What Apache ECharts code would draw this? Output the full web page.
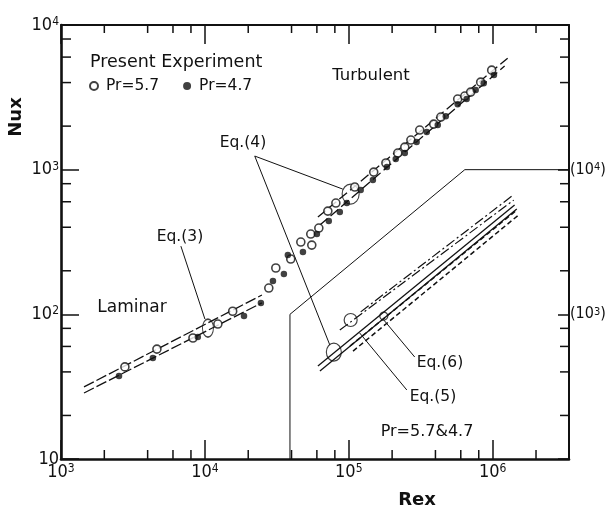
<!DOCTYPE html>
<html>
<head>
<meta charset="utf-8">
<script src="https://cdn.jsdelivr.net/npm/echarts@6/dist/echarts.min.js"></script>
<style>
  html, body { margin: 0; padding: 0; background: #fff; }
  #chart { width: 606px; height: 511px; }
</style>
</head>
<body>
<div id="chart"></div>
<script>
// Local Nusselt number against local Reynolds number, laminar and turbulent ranges.
const FONT = '"DejaVu Sans", "Liberation Sans", sans-serif';
const NARROW = '"DejaVu Sans Condensed", "Liberation Sans Narrow", "DejaVu Sans", sans-serif';
const INK = '#111';

// Measured points, Pr = 5.7 (open) and Pr = 4.7 (filled)
const reOpen = [2780, 4640, 8260, 12300, 15600, 27800, 31100, 39500, 46400, 55300, 54400, 61900, 71500, 81300,
  110000, 149000, 181000, 219000, 245000, 270000, 311000, 389000, 436000, 571000, 640000, 703000, 825000, 984000];
const nuOpen = [43.3, 57.5, 68.6, 85.7, 105, 152, 209, 241, 316, 301, 359, 395, 517, 588,
  758, 962, 1112, 1303, 1432, 1603, 1879, 2066, 2311, 3076, 3228, 3436, 4027, 4874];
const reFilled = [2530, 4350, 8930, 18700, 24500, 29700, 35400, 37700, 48000, 60000, 72600, 86600, 96900,
  121000, 147000, 184000, 212000, 245000, 296000, 348000, 415000, 472000, 571000, 659000, 762000, 866000, 1020000];
const nuFilled = [37.5, 49.9, 69.7, 97.3, 120, 170, 190, 257, 270, 359, 442, 509, 588,
  723, 847, 1042, 1183, 1303, 1552, 1820, 2032, 2344, 2838, 3076, 3548, 3963, 4508];

// Correlation lines on the main scale: Eq.(3) laminar, Eq.(4) turbulent
const reLam = [1445, 24900];
const nuLamHigh = [31.5, 136];
const nuLamLow = [28.6, 120];
const reTurbHigh = [61000, 1270000];
const nuTurbHigh = [470, 5900];
const reTurbLow = [63000, 1210000];
const nuTurbLow = [414, 5200];

// Inset correlations, read on the bracketed right-hand scale
const reEq6a = [121000, 1360000], nuEq6a = [1040, 6570];
const reEq6b = [86600, 1400000], nuEq6b = [778, 6160];
const reEq4a = [61000, 1420000], nuEq4a = [440, 5690];
const reEq4b = [63000, 1470000], nuEq4b = [406, 5350];
const reEq5a = [102000, 1470000], nuEq5a = [604, 5260];
const reEq5b = [107000, 1540000], nuEq5b = [557, 4930];

// Outline separating the inset region
const reInset = [39000, 39000, 640000, 3390000];
const nuInset = [10, 100, 1000, 1000];

// Marker ellipses (main scale) and inset circles (right scale)
const eq3Mark = [10500, 80.3];
const eq4Mark = [103000, 678];
const eq4InsetMark = [78700, 548];
const insetUpperMark = [103000, 914];
const eq6Mark = [175000, 973];

// Leader lines from the equation labels
const leaderEq3 = [[6810, 296], [10000, 92.8]];
const leaderEq4a = [[22200, 1242], [90800, 734]];
const leaderEq4b = [[22200, 1242], [73800, 61.4]];
const leaderEq6 = [[287000, 50.7], [175000, 91.4]];
const leaderEq5 = [[253000, 30.0], [119000, 74.3]];

// Axis extents and minor tick positions
const reMin = 1000, reMax = 3390000;
const nuMin = 10, nuMax = 10000;
const reMinorTicks = [2e3, 4e3, 6e3, 8e3, 2e4, 4e4, 6e4, 8e4, 2e5, 4e5, 6e5, 8e5, 2e6];
const nuMinorTicks = [20, 40, 60, 80, 200, 400, 600, 800, 2000, 4000, 6000, 8000];

const zip = (xs, ys) => xs.map((x, i) => [x, ys[i]]);

function powerLabel(v) {
  const e = Math.log10(v);
  const r = Math.round(e);
  if (Math.abs(e - r) > 1e-6) return '';
  return r === 1 ? '{b|10}' : '{b|10}{s|' + r + '}';
}
function bracketLabel(v) {
  const e = Math.log10(v);
  const r = Math.round(e);
  if (Math.abs(e - r) > 1e-6 || (r !== 3 && r !== 4)) return '';
  return '{b|(10}{s|' + r + '}{b|)}';
}
const labelRich = {
  b: { fontSize: 18, fontFamily: NARROW, color: INK },
  s: { fontSize: 12, fontFamily: NARROW, color: INK, verticalAlign: 'top' }
};
const bracketRich = {
  b: { fontSize: 16, fontFamily: NARROW, color: INK },
  s: { fontSize: 11, fontFamily: NARROW, color: INK, verticalAlign: 'top' }
};

function lineSeries(xs, ys, type, width, yIdx) {
  return {
    type: 'line', data: zip(xs, ys), yAxisIndex: yIdx || 0, symbol: 'none', silent: true,
    lineStyle: { color: INK, width: width, type: type }, z: 3
  };
}
function leader(pts) {
  return {
    type: 'line', data: pts, symbol: 'none', silent: true,
    lineStyle: { color: INK, width: 1, type: 'solid' }, z: 3
  };
}
function ellipse(pt, size, yIdx) {
  return {
    type: 'scatter', data: [pt], yAxisIndex: yIdx || 0, symbol: 'circle', symbolSize: size, silent: true,
    itemStyle: { color: 'rgba(0,0,0,0)', borderColor: INK, borderWidth: 1.2 }, z: 4
  };
}

const tickStyle = { stroke: INK, lineWidth: 1.5 };
function renderReTicks(params, api) {
  const cs = params.coordSys;
  const x = api.coord([api.value(0), nuMin])[0];
  const bottom = cs.y + cs.height;
  return {
    type: 'group', children: [
      { type: 'line', shape: { x1: x, y1: bottom, x2: x, y2: bottom - 9 }, style: tickStyle },
      { type: 'line', shape: { x1: x, y1: cs.y, x2: x, y2: cs.y + 8 }, style: tickStyle }
    ]
  };
}
function renderNuTicks(params, api) {
  const cs = params.coordSys;
  const y = api.coord([reMin, api.value(1)])[1];
  const right = cs.x + cs.width;
  return {
    type: 'group', children: [
      { type: 'line', shape: { x1: cs.x, y1: y, x2: cs.x + 10, y2: y }, style: tickStyle },
      { type: 'line', shape: { x1: right, y1: y, x2: right - 9, y2: y }, style: tickStyle }
    ]
  };
}

function text(str, x, y, size, extra) {
  return Object.assign({
    type: 'text', x: x, y: y, silent: true,
    style: { text: str, fontSize: size, fontFamily: FONT, fill: INK, align: 'center', verticalAlign: 'middle' }
  }, extra || {});
}

const chart = echarts.init(document.getElementById('chart'), null, { renderer: 'canvas' });
chart.setOption({
  animation: false,
  backgroundColor: '#fff',
  grid: { left: 61, top: 25, width: 508, height: 434, containLabel: false, outerBoundsMode: 'none' },
  legend: {
    left: 84, top: 73, itemWidth: 8, itemHeight: 8, itemGap: 24, icon: 'circle',
    data: ['Pr=5.7', 'Pr=4.7'],
    textStyle: { fontSize: 15.5, fontFamily: FONT, color: INK, padding: [0, 0, 0, 3] }
  },
  xAxis: [
    {
      type: 'log', logBase: 10, min: reMin, max: reMax, position: 'bottom',
      axisLine: { show: true, lineStyle: { color: INK, width: 2.6 } },
      axisTick: { show: true, inside: true, length: 19, lineStyle: { color: INK, width: 1.5 } },
      axisLabel: { formatter: powerLabel, rich: labelRich, margin: 4 },
      splitLine: { show: false }, minorTick: { show: false }
    },
    {
      type: 'log', logBase: 10, min: reMin, max: reMax, position: 'top',
      axisLine: { show: true, lineStyle: { color: INK, width: 2 } },
      axisTick: { show: true, inside: true, length: 19, lineStyle: { color: INK, width: 1.5 } },
      axisLabel: { show: false }, splitLine: { show: false }
    }
  ],
  yAxis: [
    {
      type: 'log', logBase: 10, min: nuMin, max: nuMax, position: 'left',
      axisLine: { show: true, lineStyle: { color: INK, width: 2.6 } },
      axisTick: { show: true, inside: true, length: 18, lineStyle: { color: INK, width: 1.5 } },
      axisLabel: { formatter: powerLabel, rich: labelRich, margin: 2 },
      splitLine: { show: false }
    },
    {
      type: 'log', logBase: 10, min: nuMin * 10, max: nuMax * 10, position: 'right',
      axisLine: { show: true, lineStyle: { color: INK, width: 2 } },
      axisTick: { show: true, inside: true, length: 11, lineStyle: { color: INK, width: 1.5 } },
      axisLabel: { formatter: bracketLabel, rich: bracketRich, margin: 1 },
      splitLine: { show: false }
    }
  ],
  graphic: [
    text('Present Experiment', 90, 62, 17.5, { style: { text: 'Present Experiment', fontSize: 17.5, fontFamily: FONT, fill: INK, align: 'left', verticalAlign: 'middle' } }),
    text('Turbulent', 371, 76, 16.5),
    text('Laminar', 132, 308, 17),
    text('Eq.(4)', 243, 143, 15.5),
    text('Eq.(3)', 180, 237, 15.5),
    text('Eq.(6)', 440, 363, 15.5),
    text('Eq.(5)', 433, 397, 15.5),
    text('Pr=5.7&4.7', 427, 432, 16),
    text('Rex', 417, 500, 18, { style: { text: 'Rex', fontSize: 18, fontWeight: 'bold', fontFamily: FONT, fill: INK, align: 'center', verticalAlign: 'middle' } }),
    text('Nux', 16, 117, 18, { rotation: Math.PI / 2, style: { text: 'Nux', fontSize: 18, fontWeight: 'bold', fontFamily: FONT, fill: INK, align: 'center', verticalAlign: 'middle' } })
  ],
  series: [
    // tick marks between decades
    { type: 'custom', renderItem: renderReTicks, data: reMinorTicks.map(v => [v, nuMin]), silent: true, clip: false, z: 6 },
    { type: 'custom', renderItem: renderNuTicks, data: nuMinorTicks.map(v => [reMin, v]), silent: true, clip: false, z: 6 },

    // inset outline
    lineSeries(reInset, nuInset, 'solid', 1),

    // Eq.(3) laminar and Eq.(4) turbulent correlations
    lineSeries(reLam, nuLamHigh, [11, 3], 1.3),
    lineSeries(reLam, nuLamLow, [11, 3], 1.3),
    lineSeries(reTurbHigh, nuTurbHigh, [10, 4], 1.3),
    lineSeries(reTurbLow, nuTurbLow, [10, 4], 1.3),

    // inset correlations on the right-hand scale
    lineSeries(reEq6a, nuEq6a, [10, 3, 2, 3], 1.2, 1),
    lineSeries(reEq6b, nuEq6b, [10, 3, 2, 3], 1.2, 1),
    lineSeries(reEq4a, nuEq4a, 'solid', 1.3, 1),
    lineSeries(reEq4b, nuEq4b, 'solid', 1.3, 1),
    lineSeries(reEq5a, nuEq5a, [5, 3], 1.5, 1),
    lineSeries(reEq5b, nuEq5b, [5, 3], 1.5, 1),

    // leaders and marker ellipses
    leader(leaderEq3), leader(leaderEq4a), leader(leaderEq4b), leader(leaderEq6), leader(leaderEq5),
    ellipse(eq3Mark, [11, 18]),
    ellipse(eq4Mark, [17, 20]),
    ellipse(eq4InsetMark, [15, 18], 1),
    ellipse(insetUpperMark, [13, 13], 1),
    ellipse(eq6Mark, [8, 8], 1),

    // measured data
    {
      name: 'Pr=5.7', type: 'scatter', data: zip(reOpen, nuOpen), symbol: 'circle', symbolSize: 8,
      itemStyle: { color: '#fff', borderColor: INK, borderWidth: 1.6 }, z: 5
    },
    {
      name: 'Pr=4.7', type: 'scatter', data: zip(reFilled, nuFilled), symbol: 'circle', symbolSize: 6.5,
      itemStyle: { color: INK, borderColor: INK, borderWidth: 0 }, z: 5
    }
  ]
});
</script>
</body>
</html>
